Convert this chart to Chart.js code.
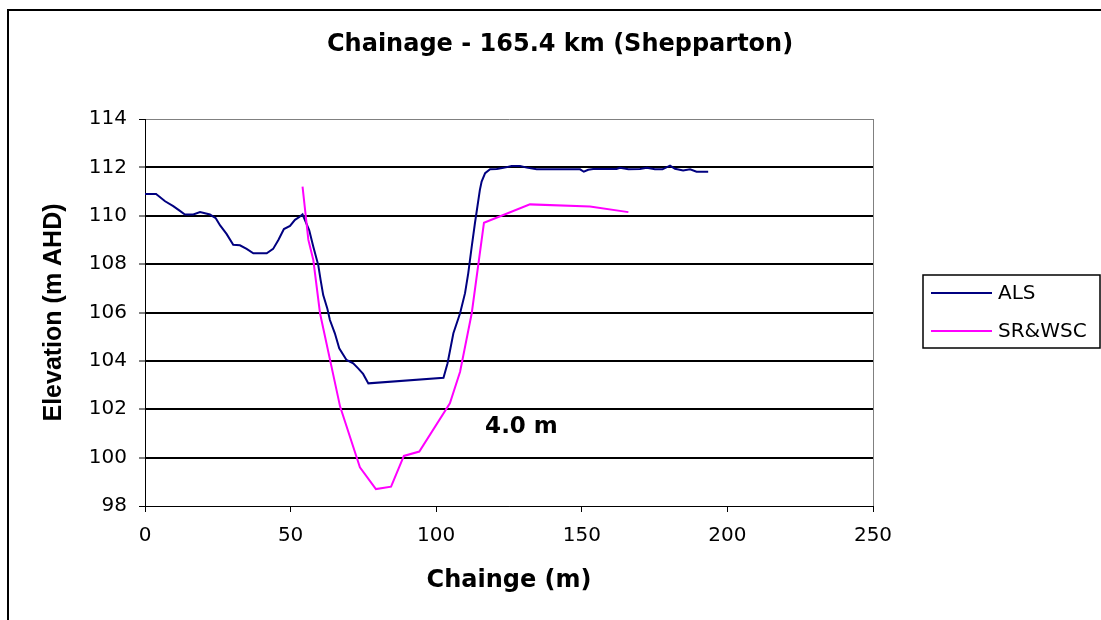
<!DOCTYPE html>
<html>
<head>
<meta charset="utf-8">
<script src="https://cdn.jsdelivr.net/npm/chart.js@4"></script>
<style>
  body { margin: 0; background: #fff; }
  canvas { display: block; }
</style>
</head>
<body>
<canvas id="chainageChart" width="1101" height="620"></canvas>
<script>
"use strict";

const chartTitle = "Chainage - 165.4 km (Shepparton)";

// ALS survey profile
const alsChainage = [
  0, 3.8, 6.9, 9.7, 12, 13.7, 16.6, 18.9, 22.3, 24.3, 25.8, 28, 30.3, 32.6,
  34.9, 37.2, 41.8, 44, 45.8, 47.7, 49.8, 51.5, 53, 54.1, 56.4, 57.8, 59.5,
  60.3, 61.2, 62.6, 63.5, 65.2, 66.7, 69.2, 71.5, 73.2, 74.9, 76.7, 102.5,
  103.9, 105.9, 108.2, 109.9, 111, 112.2, 113.3, 115, 115.6, 116.8, 118.5,
  120.8, 123.1, 125.9, 128.8, 131.1, 134.5, 149.4, 150.7, 152.2, 153.9, 161.9,
  163.1, 166, 170, 172.3, 175.1, 177.7, 180.3, 182, 184.8, 187.2, 189.4, 193.4,
];
const alsElevation = [
  110.9, 110.9, 110.6, 110.4, 110.2, 110.05, 110.05, 110.15, 110.05, 109.9,
  109.6, 109.25, 108.8, 108.78, 108.63, 108.45, 108.45, 108.63, 109.0, 109.45,
  109.58, 109.83, 109.95, 110.06, 109.4, 108.72, 107.96, 107.35, 106.72,
  106.17, 105.69, 105.14, 104.52, 104.04, 103.9, 103.69, 103.46, 103.07,
  103.3, 103.9, 105.14, 105.97, 106.8, 107.62, 108.72, 109.69, 111.07, 111.41,
  111.76, 111.92, 111.93, 111.98, 112.06, 112.06, 111.99, 111.92, 111.92,
  111.82, 111.9, 111.93, 111.93, 111.98, 111.92, 111.93, 111.98, 111.92,
  111.92, 112.07, 111.94, 111.87, 111.92, 111.82, 111.82,
];

// SR&WSC cross section
const srChainage = [
  54.1, 56.1, 57.8, 60.1, 67, 73.8, 79.3, 84.5, 88.9, 94.2, 104.7, 108.2,
  112.2, 116.4, 132.2, 152.8, 166,
];
const srElevation = [
  111.2, 109.0, 108.17, 105.97, 102.11, 99.6, 98.7, 98.8, 100.07, 100.25,
  102.25, 103.55, 105.97, 109.71, 110.47, 110.38, 110.15,
];

// depth label placed in data space
const depthLabel = "4.0 m";
const depthLabelAt = { x: 116.8, y: 101.0 };

const toPoints = (xs, ys) => xs.map((x, i) => ({ x: x, y: ys[i] }));

const series = [
  { label: "ALS", color: "#000080", data: toPoints(alsChainage, alsElevation), order: 1 },
  { label: "SR&WSC", color: "#FF00FF", data: toPoints(srChainage, srElevation), order: 0 },
];

const decorations = {
  id: "decorations",
  afterDraw(chart) {
    const ctx = chart.ctx;
    const { x, y } = chart.scales;
    ctx.save();

    // outer frame
    ctx.strokeStyle = "#000";
    ctx.lineWidth = 2;
    ctx.beginPath();
    ctx.moveTo(8, 622);
    ctx.lineTo(8, 10);
    ctx.lineTo(1103, 10);
    ctx.stroke();

    // title
    ctx.fillStyle = "#000";
    ctx.font = "bold 24px 'DejaVu Sans'";
    ctx.textAlign = "left";
    ctx.textBaseline = "alphabetic";
    ctx.fillText(chartTitle, 327, 51);

    // depth annotation
    ctx.font = "bold 23px 'DejaVu Sans'";
    ctx.fillText(depthLabel, x.getPixelForValue(depthLabelAt.x), y.getPixelForValue(depthLabelAt.y));

    // legend
    ctx.lineWidth = 1.5;
    ctx.strokeRect(923, 275, 177, 73);
    ctx.font = "20px 'DejaVu Sans'";
    ctx.textBaseline = "middle";
    series.forEach((s, i) => {
      const ly = 293 + i * 38;
      ctx.strokeStyle = s.color;
      ctx.lineWidth = 2;
      ctx.beginPath();
      ctx.moveTo(931, ly);
      ctx.lineTo(992, ly);
      ctx.stroke();
      ctx.fillText(s.label, 998, ly + 1);
    });

    ctx.restore();
  },
};

const config = {
  type: "scatter",
  data: {
    datasets: series.map((s) => ({
      label: s.label,
      data: s.data,
      borderColor: s.color,
      backgroundColor: s.color,
      borderWidth: 2,
      showLine: true,
      pointRadius: 0,
      tension: 0,
      order: s.order,
    })),
  },
  options: {
    responsive: false,
    animation: false,
    devicePixelRatio: 1,
    layout: {
      padding: { left: 8, top: 119, right: 228, bottom: 0 },
    },
    plugins: {
      legend: { display: false },
      tooltip: { enabled: false },
      title: { display: false },
    },
    scales: {
      x: {
        type: "linear",
        min: 0,
        max: 250,
        afterFit: (scale) => { scale.height = 114; },
        ticks: {
          stepSize: 50,
          color: "#000",
          padding: 12,
          font: { family: "'DejaVu Sans'", size: 20 },
        },
        grid: {
          drawOnChartArea: true,
          color: (c) => (c.tick && c.tick.value === 250 ? "#808080" : "rgba(0,0,0,0)"),
          lineWidth: 1,
          tickLength: 6,
          tickColor: "#000",
          tickWidth: 1,
        },
        border: { color: "#000", width: 1 },
        title: {
          display: true,
          text: "Chainge (m)",
          color: "#000",
          font: { family: "'DejaVu Sans'", size: 24, weight: "bold" },
          padding: { top: 0, bottom: 25 },
        },
      },
      y: {
        min: 98,
        max: 114,
        afterFit: (scale) => { scale.width = 137; },
        ticks: {
          stepSize: 2,
          color: "#000",
          padding: 12,
          font: { family: "'DejaVu Sans'", size: 20 },
        },
        grid: {
          color: (c) => (c.tick && c.tick.value === 114 ? "#808080" : "#000"),
          lineWidth: (c) => (c.tick && (c.tick.value === 114 || c.tick.value === 98) ? 1 : 2),
          tickLength: 6,
          tickColor: "#000",
          tickWidth: 1,
        },
        border: { color: "#000", width: 1 },
        title: {
          display: true,
          text: "Elevation (m AHD)",
          color: "#000",
          font: { family: "'Liberation Sans'", size: 25, weight: "bold" },
          padding: { top: 31, bottom: 0 },
        },
      },
    },
  },
  plugins: [decorations],
};

const chainageChart = new Chart(document.getElementById("chainageChart"), config);
</script>
</body>
</html>
